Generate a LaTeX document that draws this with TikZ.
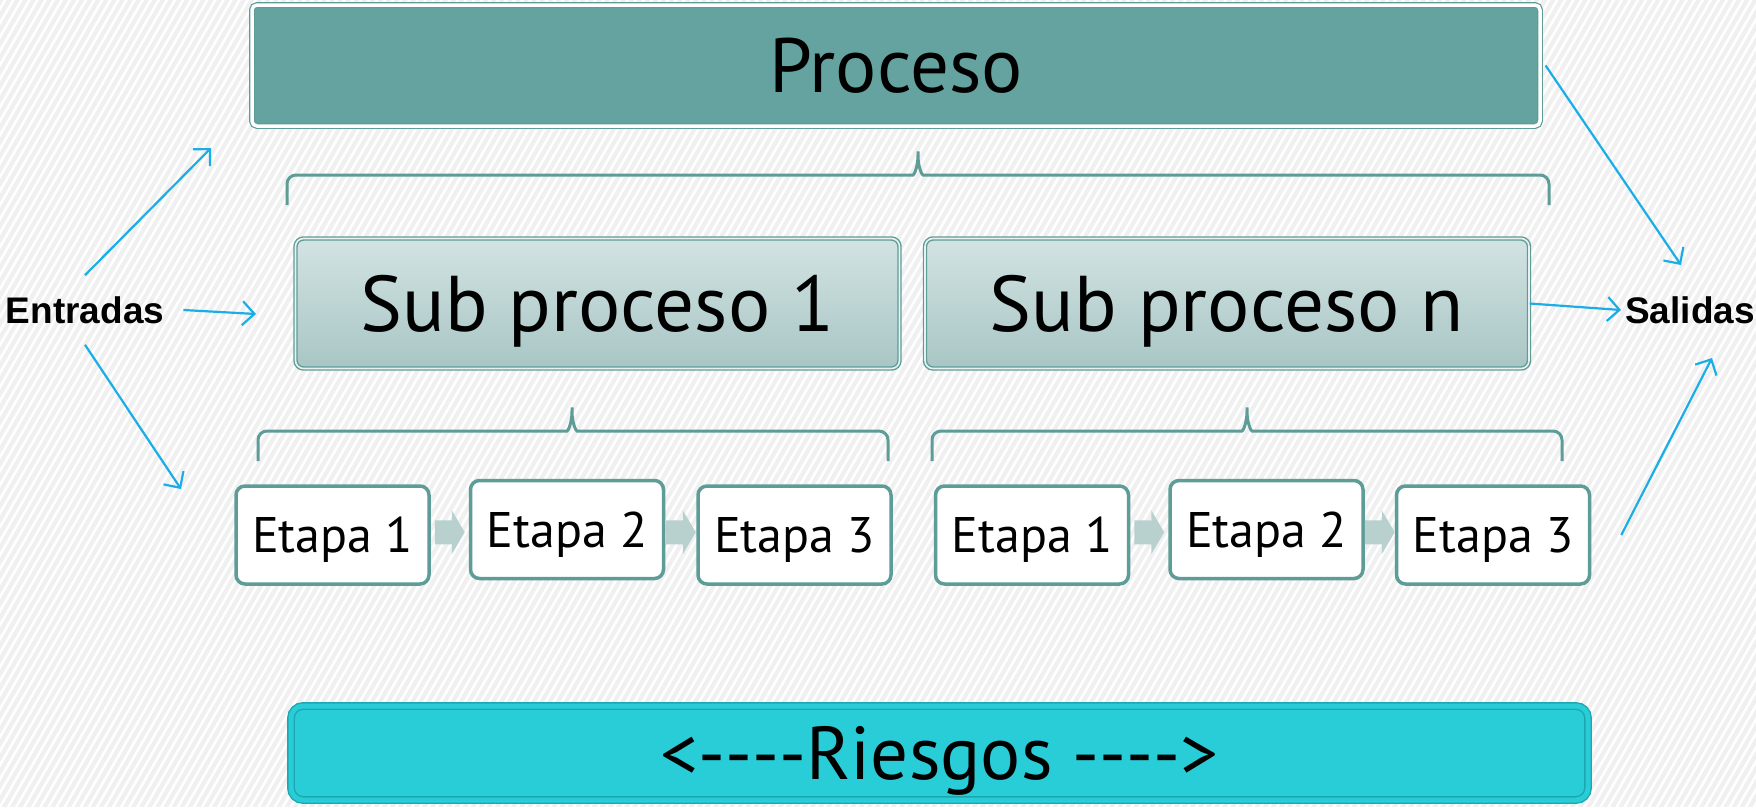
\documentclass[tikz,border=0pt]{standalone}
\usepackage{fontspec}
\usetikzlibrary{arrows.meta,patterns.meta,calc}
\newfontfamily\boxfont{PT Sans}
\newfontfamily\lblfont{Liberation Sans}
\definecolor{bgcol}{HTML}{F0F0F0}
\definecolor{procteal}{HTML}{65A3A0}
\definecolor{tealline}{HTML}{5E9C98}
\definecolor{subtop}{HTML}{D2E3E2}
\definecolor{subbot}{HTML}{A8C6C5}
\definecolor{chevfill}{HTML}{B8D1CF}
\definecolor{riskfill}{HTML}{29CDD7}
\definecolor{riskline}{HTML}{1CA7B0}
\definecolor{flowblue}{HTML}{1BAEE6}
% bracket over a row: (left:right:tip:level)
\def\hbrace(#1:#2:#3:#4){\draw[bracket] (#1,{#4+30}) -- (#1,#4) -- ({#3-14},#4) .. controls ({#3-4},#4) and (#3,{#4-8}) .. (#3,{#4-29}) .. controls (#3,{#4-8}) and ({#3+4},#4) .. ({#3+14},#4) -- (#2,#4) -- (#2,{#4+30});}
\newcommand\dsh{\mbox{-}}

\tikzset{
	procbox/.style={draw=tealline, double=white, line width=1.2pt, double distance=3.5pt, fill=procteal, rounded corners=5pt,
		minimum width=1288pt, minimum height=121pt, inner sep=0pt, text height=54pt, text depth=0pt,
		font=\boxfont\fontsize{77}{80}\selectfont},
	subbox/.style={draw=tealline, double=subtop!50!white, line width=1.4pt, double distance=1.6pt, top color=subtop, bottom color=subbot,
		rounded corners=8pt, minimum width=604pt, minimum height=130pt, inner sep=0pt, text height=55pt, text depth=0pt,
		font=\boxfont\fontsize{79}{80}\selectfont},
	stagebox/.style={draw=tealline, line width=3.5pt, fill=white, rounded corners=9pt,
		minimum width=193pt, minimum height=98pt, inner sep=0pt, text height=35pt, text depth=0pt,
		font=\boxfont\fontsize{50}{54}\selectfont},
	riskbox/.style={draw=riskline, double=riskfill, line width=1.4pt, double distance=5pt, fill=riskfill, rounded corners=12pt,
		minimum width=1297pt, minimum height=94pt, inner sep=0pt, text height=52pt, text depth=0pt,
		font=\boxfont\fontsize{75}{78}\selectfont},
	lbl/.style={inner sep=0pt, font=\lblfont\bfseries\fontsize{37}{40}\selectfont},
	flow/.style={draw=flowblue, line width=2.2pt, -{Straight Barb[length=12pt,width=24pt,line width=2.2pt]}},
	bracket/.style={draw=tealline, line width=3pt, rounded corners=9pt},
	chevron/.pic={\fill[chevfill] (-15,-12) -- (2,-12) -- (2,-22) -- (15,0) -- (2,22) -- (2,12) -- (-15,12) -- cycle;}
}

\begin{document}
\begin{tikzpicture}[x=1pt,y=-1pt]
	% background
	\fill[bgcol] (0,0) rectangle (1756,807);
	\fill[pattern={Lines[angle=60,distance=7pt,line width=2.6pt]}, pattern color=white] (0,0) rectangle (1756,807);
	\useasboundingbox (0,0) rectangle (1756,807);

	\node[procbox] (proc) at (896,65.5) {Proceso};

	\hbrace(287:1549:918:175)

	\node[subbox] (sub1) at (597.5,303.5) {Sub proceso 1};
	\node[subbox] (subn) at (1227,303.5) {Sub proceso n};

	\hbrace(258:888:572:431)
	\hbrace(932:1562:1247:431)

	\node[stagebox] (a1) at (332.5,535) {Etapa 1};
	\node[stagebox] (a2) at (567,529.5) {Etapa 2};
	\node[stagebox] (a3) at (794.5,535) {Etapa 3};
	\node[stagebox] (b1) at (1032,535) {Etapa 1};
	\node[stagebox] (b2) at (1266.5,529.5) {Etapa 2};
	\node[stagebox] (b3) at (1493,535) {Etapa 3};

	\path ($(a1.east)!0.5!(a2.west)$) pic {chevron};
	\path ($(a2.east)!0.5!(a3.west)$) pic {chevron};
	\path ($(b1.east)!0.5!(b2.west)$) pic {chevron};
	\path ($(b2.east)!0.5!(b3.west)$) pic {chevron};

	\node[riskbox] (risk) at (939.5,753) {<\dsh\dsh\dsh\dsh Riesgos \dsh\dsh\dsh\dsh>};

	\node[lbl] (entradas) at (85,310) {Entradas};
	\node[lbl] (salidas) at (1690,310) {Salidas};

	\coordinate (inA) at (211,148);
	\coordinate (inB) at (256,314);
	\coordinate (inC) at (181,489);
	\coordinate (outA) at (1681,265);
	\coordinate (outB) at (1712,358);

	\draw[flow] ([yshift=21pt]entradas.north) -- (inA);
	\draw[flow] ([xshift=19pt]entradas.east) -- (inB);
	\draw[flow] ([yshift=-21pt]entradas.south) -- (inC);
	\draw[flow] ([xshift=5pt]proc.east) -- (outA);
	\draw[flow] (subn.east) -- ([xshift=-4pt]salidas.west);
	\draw[flow] ([xshift=30pt]b3.east) -- (outB);
\end{tikzpicture}
\end{document}
